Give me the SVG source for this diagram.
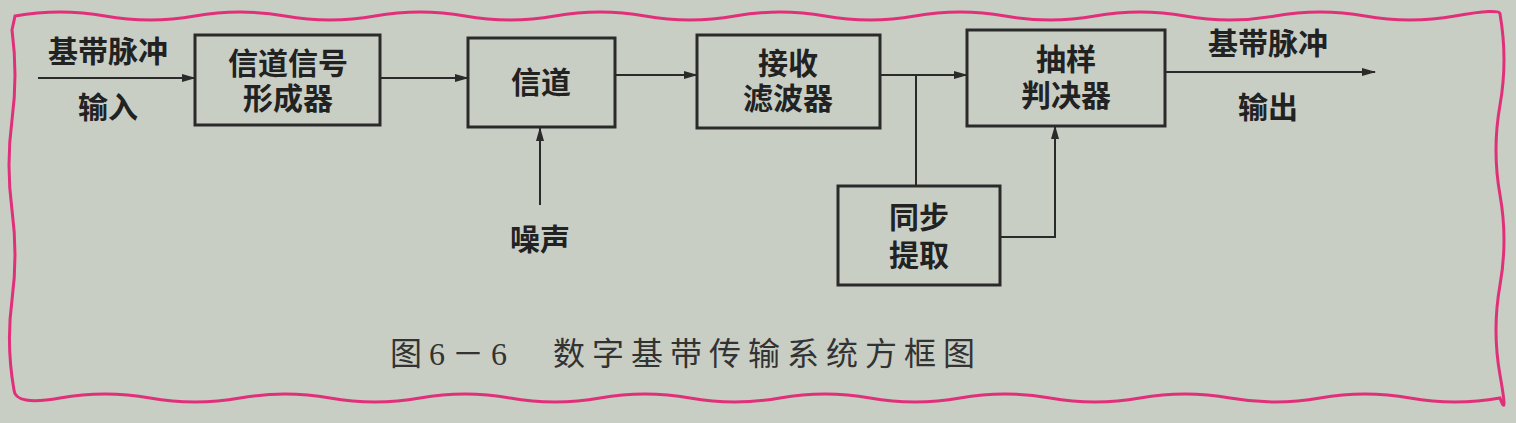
<svg xmlns="http://www.w3.org/2000/svg" width="1516" height="423" viewBox="0 0 1516 423">
<defs>
<marker id="ah" markerWidth="14" markerHeight="8" refX="13" refY="4" orient="auto" markerUnits="userSpaceOnUse"><path d="M0,0 L14,4 L0,8 Z" fill="#2a2a2a"/></marker>
<style>
.box{fill:none;stroke:#2a2a2a;stroke-width:3}
.ln{fill:none;stroke:#2a2a2a;stroke-width:2}
.t{font-family:"Liberation Serif","Noto Sans CJK SC",serif;font-size:30px;fill:#222;text-anchor:middle;font-weight:bold}
.cap{font-family:"Liberation Serif","Noto Sans CJK SC",serif;font-size:32px;fill:#333}
</style>
</defs>
<rect width="1516" height="423" fill="#c8cec4"/>
<path d="M15,16 Q60,8 105,16 T195,16 T285,16 T375,16 T465,16 T555,16 T645,16 T735,16 T825,16 T915,16 T1005,16 T1095,16 T1185,16 T1275,16 T1365,16 T1455,16 T1500,14 Q1508,60 1500,105 T1500,195 T1500,285 T1500,375 T1500,398 Q1455,406 1410,398 T1320,398 T1230,398 T1140,398 T1050,398 T960,398 T870,398 T780,398 T690,398 T600,398 T510,398 T420,398 T330,398 T240,398 T150,398 T60,398 T14,390 Q6,345 12,300 T12,210 T12,120 T12,30 Z" fill="none" stroke="#e0307a" stroke-width="3"/>
<g id="connectors">
<line class="ln" x1="38" y1="78" x2="195" y2="78" marker-end="url(#ah)"/>
<line class="ln" x1="380" y1="78" x2="468" y2="78" marker-end="url(#ah)"/>
<line class="ln" x1="615" y1="75" x2="697" y2="75" marker-end="url(#ah)"/>
<line class="ln" x1="880" y1="75" x2="967" y2="75" marker-end="url(#ah)"/>
<line class="ln" x1="916" y1="75" x2="916" y2="185"/>
<polyline class="ln" points="1000,237 1055,237 1055,126" marker-end="url(#ah)"/>
<line class="ln" x1="540" y1="205" x2="540" y2="128" marker-end="url(#ah)"/>
<line class="ln" x1="1165" y1="72" x2="1375" y2="72" marker-end="url(#ah)"/>
</g>
<g id="n1"><rect class="box" x="195" y="35" width="185" height="90"/><text class="t" x="288" y="74">信道信号</text><text class="t" x="288" y="109">形成器</text></g>
<g id="n2"><rect class="box" x="468" y="38" width="147" height="89"/><text class="t" x="541" y="93">信道</text></g>
<g id="n3"><rect class="box" x="697" y="35" width="183" height="93"/><text class="t" x="788" y="74">接收</text><text class="t" x="788" y="109">滤波器</text></g>
<g id="n4"><rect class="box" x="967" y="30" width="198" height="96"/><text class="t" x="1066" y="70">抽样</text><text class="t" x="1066" y="106">判决器</text></g>
<g id="n5"><rect class="box" x="838" y="186" width="162" height="99"/><text class="t" x="919" y="228">同步</text><text class="t" x="919" y="266">提取</text></g>
<g id="labels">
<text class="t" x="108" y="62">基带脉冲</text>
<text class="t" x="108" y="118">输入</text>
<text class="t" x="1268" y="54">基带脉冲</text>
<text class="t" x="1268" y="118">输出</text>
<text class="t" x="540" y="250">噪声</text>
<text class="cap" x="390" y="365" textLength="585">图6－6　数字基带传输系统方框图</text>
</g>
</svg>
